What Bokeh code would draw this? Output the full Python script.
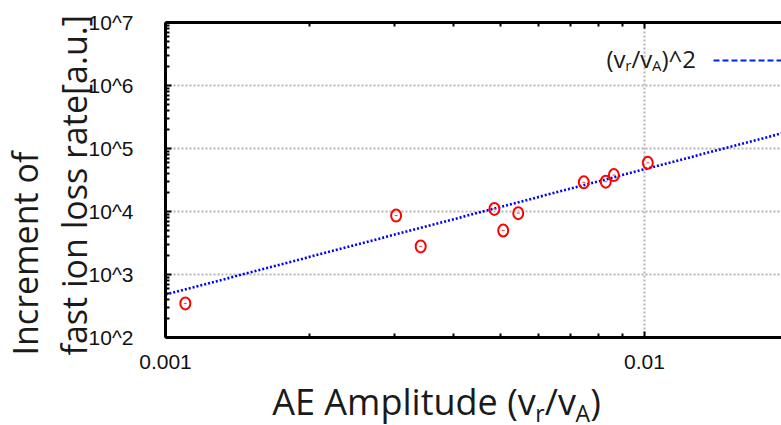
import math
from bokeh.plotting import figure
from bokeh.models import FixedTicker, LogAxis, Label, Arrow, CustomJSTickFormatter
from bokeh.embed import file_html
from bokeh.resources import INLINE

# ---- data ----
amplitude = [0.00110, 0.00303, 0.00341, 0.00486, 0.00507, 0.00545, 0.00747, 0.00830, 0.00863, 0.01016]
loss_increment = [347, 8610, 2790, 10990, 4990, 9400, 29000, 29700, 37900, 59300]

fit_amplitude = [0.001, 0.0194]
fit_increment = [480, 175000]

x_tick_values = [0.001, 0.01]
x_tick_labels = ["0.001", "0.01"]
y_tick_values = [1e2, 1e3, 1e4, 1e5, 1e6, 1e7]
y_tick_labels = ["10^2", "10^3", "10^4", "10^5", "10^6", "10^7"]

x_label_parts = ["AE Amplitude (v", "r", "/v", "A", ")"]
y_label_lines = ["Increment of", "fast ion loss rate[a.u.]"]
legend_parts = ["(v", "r", "/v", "A", ")^2"]

# approximate Open Sans advance widths (em/2048) used to chain text pieces
ADV = {" ": 532, "A": 1296, "E": 1130, "m": 1905, "p": 1255, "l": 518, "i": 518, "t": 717,
       "u": 1257, "d": 1255, "e": 1149, "(": 604, ")": 604, "v": 1001, "r": 836, "/": 758,
       "^": 1096, "2": 1171}
def text_w(s, size):
    return sum(ADV.get(c, 1100) for c in s) / 2048.0 * size

# ---- geometry of the canvas (frame covers the whole canvas, axes at fixed data locations) ----
W, H = 781, 425
AX_L, AX_B, AX_T = 165, 337, 22          # canvas px of left axis, bottom axis, top axis
X0, Y0, Y1 = 0.001, 1e2, 1e7
DEC_X = 479.0                            # px per decade in x
DEC_Y = (AX_B - AX_T) / math.log10(Y1 / Y0)
x_start = 10 ** (math.log10(X0) - AX_L / DEC_X)
x_end = 10 ** (math.log10(X0) + (W - AX_L) / DEC_X)
y_start = 10 ** (math.log10(Y0) - (H - AX_B) / DEC_Y)
y_end = 10 ** (math.log10(Y1) + AX_T / DEC_Y)

p = figure(width=W, height=H, x_axis_type="log", y_axis_type="log",
           x_range=(x_start, x_end), y_range=(y_start, y_end),
           output_backend="svg", toolbar_location=None, min_border=0)
p.title.visible = False
p.outline_line_color = None
p.background_fill_color = "white"
p.border_fill_color = "white"

x_minor = [m * 10.0 ** k for k in (-3, -2) for m in range(2, 10)]
y_minor = [m * 10.0 ** k for k in range(2, 7) for m in range(2, 10)]

fmt_code = """
let best = 0, bd = Infinity;
for (let i = 0; i < vals.length; i++) {
  const d = Math.abs(Math.log10(tick) - Math.log10(vals[i]));
  if (d < bd) { bd = d; best = i; }
}
return labs[best];
"""
tick_font = "Liberation Sans"

def style_axis(ax):
    ax.axis_line_width = 3
    ax.axis_line_color = "black"
    ax.major_tick_in = 6
    ax.major_tick_out = 0
    ax.minor_tick_in = 4
    ax.minor_tick_out = 0
    ax.major_tick_line_width = 2
    ax.minor_tick_line_width = 2
    ax.major_label_text_font = tick_font
    ax.major_label_text_font_size = "21px"
    ax.major_label_text_color = "#111111"

xa, ya = p.xaxis[0], p.yaxis[0]
xa.ticker = FixedTicker(ticks=x_tick_values, minor_ticks=x_minor)
ya.ticker = FixedTicker(ticks=y_tick_values, minor_ticks=y_minor)
xa.formatter = CustomJSTickFormatter(args=dict(vals=x_tick_values, labs=x_tick_labels), code=fmt_code)
ya.formatter = CustomJSTickFormatter(args=dict(vals=y_tick_values, labs=y_tick_labels), code=fmt_code)
for ax in (xa, ya):
    style_axis(ax)
xa.fixed_location = Y0
ya.fixed_location = X0
xa.bounds = (X0, x_end)
ya.bounds = (Y0, Y1)
xa.major_label_standoff = 17
ya.major_label_standoff = 32

top = LogAxis(ticker=FixedTicker(ticks=x_tick_values, minor_ticks=x_minor), fixed_location=Y1,
              bounds=(X0, x_end))
style_axis(top)
top.formatter = CustomJSTickFormatter(code="return ''")
top.major_label_text_font_size = "0px"
p.add_layout(top, "above")

for g in (p.xgrid[0], p.ygrid[0]):
    g.grid_line_color = "#b4b4b4"
    g.grid_line_width = 2
    g.grid_line_dash = "2 2"
    g.minor_grid_line_color = None
p.xgrid[0].bounds = (X0, x_end)
p.xgrid[0].cross_bounds = (Y0, Y1)
p.ygrid[0].bounds = (Y0, Y1)
p.ygrid[0].cross_bounds = (X0, x_end)

# fit line
p.line(fit_amplitude, fit_increment, line_color="#0000ff", line_width=2.6, line_dash="2 2")

# data points
p.ellipse(x=amplitude, y=loss_increment, width=10, height=12,
          width_units="screen", height_units="screen",
          fill_color=None, line_color="#ff0000", line_width=2)
p.scatter(x=amplitude, y=loss_increment, marker="dash", size=3, line_color="#ff4040", line_width=1)

# ---- texts (canvas px from top-left; frame == canvas) ----
label_font = "Open Sans"
label_color = "#1a1a1a"
BASE_SHIFT = 0.42   # empirical: rendered baseline sits this many em below the anchor

def mk(text, x, y, size, angle=0.0):
    # (x, y): wanted baseline start in canvas px
    if angle:
        x = x - BASE_SHIFT * size
    else:
        y = y - BASE_SHIFT * size
    return Label(x=x, y=H - y, x_units="screen", y_units="screen", text=text,
                 angle=angle, text_align="left", text_baseline="alphabetic",
                 text_font=label_font, text_font_size=f"{size}px", text_color=label_color)

# y label: two left-aligned rotated lines
for line, bx in zip(y_label_lines, (39, 88)):
    p.add_layout(mk(line, bx, 355, 34, math.pi / 2))

# x label with subscripts
XM, XS = 36, 23
xl_base, xl_sub = 416, 422
sizes = [XM, XS, XM, XS, XM]
total = sum(text_w(t, s) for t, s in zip(x_label_parts, sizes))
xpos = 436 - total / 2
for t, s in zip(x_label_parts, sizes):
    p.add_layout(mk(t, xpos, xl_base if s == XM else xl_sub, s))
    xpos += text_w(t, s)

# legend text with subscripts + dashed sample
LM, LS = 24, 15
lg_base, lg_sub = 68, 71
lpos = 606
for t, s in zip(legend_parts, [LM, LS, LM, LS, LM]):
    p.add_layout(mk(t, lpos, lg_base if s == LM else lg_sub, s))
    lpos += text_w(t, s)
p.add_layout(Arrow(x_start=713, y_start=H - 60, x_end=790, y_end=H - 60,
                   start_units="screen", end_units="screen", end=None,
                   line_color="#0022ee", line_width=2.2, line_dash="6 3"))

open("out.html", "w").write(file_html(p, INLINE))
